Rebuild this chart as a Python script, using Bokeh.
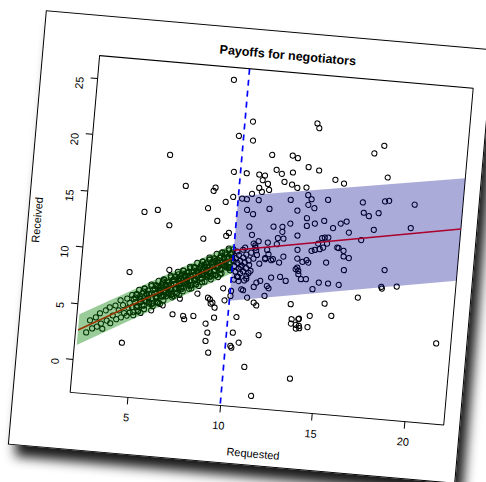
import math
from bokeh.plotting import figure
from bokeh.models import Range1d, FixedTicker, Span
from bokeh.embed import file_html
from bokeh.resources import INLINE

# ---------------- data ----------------
x_ticks = [5, 10, 15, 20]
y_ticks = [0, 5, 10, 15, 20, 25]
title_text = "Payoffs for negotiators"

# dense cloud of negotiators who requested below 10
cloud_x = [2.45, 2.6, 2.75, 2.9, 3.0, 3.1, 3.2, 3.3, 3.4, 3.5, 3.6, 3.7, 3.8, 3.9, 4.0, 4.1, 4.15, 4.25, 4.3, 4.4, 4.5, 4.55, 4.6,
           4.65, 4.70, 4.75, 4.80, 4.85, 4.90, 4.95, 5.00, 5.05, 5.10, 5.15, 5.20, 5.25, 5.30, 5.35, 5.40, 5.45, 5.50, 5.55, 5.60,
           5.65, 5.70, 5.75, 5.80, 5.85, 5.90, 5.95, 6.00, 6.05, 6.10, 6.15, 6.20, 6.25, 6.30, 6.35, 6.40, 6.45, 6.50, 6.55, 6.60,
           6.65, 6.70, 6.75, 6.80, 6.85, 6.90, 6.95, 7.00, 7.05, 7.10, 7.15, 7.20, 7.25, 7.30, 7.35, 7.40, 7.45, 7.50, 7.55, 7.60,
           7.65, 7.70, 7.75, 7.80, 7.85, 7.90, 7.95, 8.00, 8.05, 8.10, 8.15, 8.20, 8.25, 8.30, 8.35, 8.40, 8.45, 8.50, 8.55, 8.60,
           8.65, 8.70, 8.75, 8.80, 8.85, 8.90, 8.95, 9.00, 9.05, 9.10, 9.15, 9.20, 9.25, 9.30, 9.35, 9.40, 9.45, 9.50, 9.55, 9.60,
           9.65, 9.70, 9.75, 9.80, 9.85, 9.90, 9.95,
           4.88, 4.98, 5.08, 5.18, 5.28, 5.38, 5.48, 5.58, 5.68, 5.78, 5.88, 5.98, 6.08, 6.18, 6.28, 6.38, 6.48, 6.58, 6.68, 6.78,
           6.88, 6.98, 7.08, 7.18, 7.28, 7.38, 7.48, 7.58, 7.68, 7.78, 7.88, 7.98, 8.08, 8.18, 8.28, 8.38, 8.48, 8.58, 8.68, 8.78,
           8.88, 8.98, 9.08, 9.18, 9.28, 9.38, 9.48, 9.58, 9.68, 9.78, 9.88, 9.98,
           4.93, 5.03, 5.13, 5.23, 5.33, 5.43, 5.53, 5.63, 5.73, 5.83, 5.93, 6.03, 6.13, 6.23, 6.33, 6.43, 6.53, 6.63, 6.73, 6.83,
           6.93, 7.03, 7.13, 7.23, 7.33, 7.43, 7.53, 7.63, 7.73, 7.83, 7.93, 8.03, 8.13, 8.23, 8.33, 8.43, 8.53, 8.63, 8.73, 8.83,
           8.93, 9.03, 9.13, 9.23, 9.33, 9.43, 9.53, 9.63, 9.73, 9.83, 9.93,
           6.02, 6.10, 6.18, 6.26, 6.34, 6.42, 6.50, 6.58, 6.66, 6.74, 6.82, 6.90, 6.98, 7.06, 7.14, 7.22, 7.30, 7.38, 7.46, 7.54,
           7.62, 7.70, 7.78, 7.86, 7.94, 8.02, 8.10, 8.18, 8.26, 8.34, 8.42, 8.50, 8.58, 8.66, 8.74, 8.82, 8.90, 8.98, 9.06, 9.14,
           9.22, 9.30, 9.38, 9.46, 9.54, 9.62, 9.70, 9.78, 9.86, 9.94,
           5.84, 6.44, 7.33]
cloud_y = [2.5, 3.6, 2.9, 3.9, 3.1, 4.3, 3.4, 2.95, 4.6, 3.7, 4.9, 3.5, 4.2, 5.1, 3.9, 4.7, 5.6, 4.1, 5.2, 4.5, 5.8, 4.3, 5.0,
           5.45, 4.59, 6.14, 5.09, 5.83, 4.38, 5.53, 6.18, 5.12, 6.67, 4.82, 5.86, 5.61, 6.36, 5.30, 6.80, 5.00, 6.35, 5.69, 6.04,
           6.39, 5.53, 7.08, 6.03, 6.77, 5.32, 6.47, 7.12, 6.06, 7.61, 5.76, 6.80, 6.55, 7.30, 6.25, 7.74, 5.94, 7.29, 6.63, 6.98,
           7.33, 6.47, 8.02, 6.97, 7.72, 6.26, 7.41, 8.06, 7.00, 8.55, 6.70, 7.75, 7.49, 8.24, 7.19, 8.68, 6.88, 8.23, 7.57, 7.92,
           8.27, 7.42, 8.96, 7.91, 8.66, 7.20, 8.35, 9.00, 7.95, 9.49, 7.64, 8.69, 8.43, 9.18, 8.13, 9.62, 7.82, 9.17, 8.52, 8.86,
           9.21, 8.36, 9.90, 8.85, 9.60, 8.14, 9.29, 9.94, 8.89, 10.43, 8.58, 9.63, 9.37, 10.12, 9.07, 10.57, 8.76, 10.11, 9.46, 9.80,
           10.15, 9.30, 10.84, 9.79, 10.54, 9.09, 10.23,
           4.66, 6.26, 5.25, 6.09, 4.64, 6.83, 5.78, 6.67, 5.66, 6.46, 5.60, 7.20, 6.19, 7.04, 5.58, 7.77, 6.72, 7.61, 6.61, 7.40,
           6.54, 8.14, 7.13, 7.98, 6.52, 8.71, 7.66, 8.55, 7.55, 8.34, 7.49, 9.08, 8.07, 8.92, 7.46, 9.66, 8.60, 9.49, 8.49, 9.28,
           8.43, 10.02, 9.01, 9.86, 8.40, 10.60, 9.54, 10.44, 9.43, 10.22, 9.37, 10.96,
           5.96, 5.15, 4.75, 5.84, 6.54, 5.33, 6.32, 6.02, 7.21, 5.51, 6.90, 6.09, 5.69, 6.78, 7.48, 6.27, 7.26, 6.96, 8.15, 6.45,
           7.84, 7.04, 6.63, 7.72, 8.42, 7.21, 8.21, 7.90, 9.09, 7.39, 8.78, 7.98, 7.57, 8.66, 9.36, 8.15, 9.15, 8.84, 10.04, 8.33,
           9.72, 8.92, 8.51, 9.61, 10.30, 9.09, 10.09, 9.78, 10.98, 9.27, 10.66,
           6.19, 7.11, 5.64, 6.71, 7.59, 6.41, 7.19, 6.31, 7.54, 7.01, 6.94, 7.86, 6.39, 7.46, 8.34, 7.16, 7.94, 7.06, 8.29, 7.77,
           7.69, 8.62, 7.14, 8.22, 9.09, 7.92, 8.69, 7.82, 9.04, 8.52, 8.44, 9.37, 7.89, 8.97, 9.84, 8.67, 9.44, 8.57, 9.80, 9.27,
           9.20, 10.12, 8.65, 9.72, 10.60, 9.42, 10.20, 9.32, 10.55, 10.02,
           4.95, 5.48, 6.20]

# cluster just above the 10 threshold
cluster_x = [10.10, 10.15, 10.20, 10.25, 10.30, 10.35, 10.40, 10.45, 10.50, 10.55, 10.60, 10.65, 10.70, 10.75, 10.80,
             10.85, 10.90, 10.95, 10.30, 10.50, 10.15, 10.40, 10.70, 11.00, 10.20, 10.60, 11.10, 10.05, 10.90, 10.45]
cluster_y = [9.5, 10.2, 9.0, 9.8, 10.5, 9.3, 10.0, 8.9, 9.6, 10.3, 9.1, 9.9, 10.6, 9.4, 8.7,
             10.1, 9.7, 10.8, 8.6, 11.0, 8.3, 8.2, 8.3, 9.2, 10.8, 11.2, 10.3, 9.9, 9.0, 9.45]

# remaining scattered negotiators
other_x = [9.21, 10.43, 9.74, 10.52, 13.91, 14.03, 6.13, 7.12, 11.62, 12.73, 13.02, 13.64, 14.22, 15.14, 15.62, 9.64,
           10.34, 11.02, 11.33, 11.93, 12.23, 12.82, 11.23, 11.53, 12.41, 12.83, 13.13, 13.62, 11.08, 11.62, 11.24, 10.72,
           8.64, 8.73, 9.72, 9.34, 13.75, 13.95, 10.21, 11.11, 12.83, 14.84, 17.11, 17.61, 17.94, 16.72, 17.91, 18.13,
           19.52, 16.82, 17.11, 17.62, 15.63, 15.94, 15.24, 14.73, 11.73, 10.53, 13.24, 13.80, 14.14, 13.79, 13.82, 12.92,
           12.03, 12.51, 12.53, 12.62, 10.91, 10.73, 13.36, 11.30, 11.80, 11.14, 11.80, 12.32, 13.43, 13.46, 12.70, 12.15,
           12.50, 11.44, 11.72, 11.89, 13.59, 13.75, 13.50, 14.07, 14.19, 14.36, 14.51, 14.70, 14.84, 15.03, 15.03, 15.63,
           15.94, 16.23, 16.02, 14.73, 15.23, 15.81, 14.42, 16.11, 16.81, 17.44, 19.42, 18.21, 18.11, 18.15, 18.94, 16.90,
           15.14, 13.32, 15.56, 14.40, 13.83, 21.33, 14.24, 9.53, 9.66, 8.98, 11.04, 11.15, 12.29, 11.73, 12.06, 13.57,
           13.75, 13.96, 14.62, 14.80, 14.99, 15.56, 15.91, 10.36, 10.81, 10.69, 11.37, 11.57, 11.25, 11.95, 12.05, 11.87,
           10.94, 12.94, 14.02, 10.46, 13.44, 13.80, 13.69, 13.89, 9.26, 9.61, 9.74, 10.05, 10.04, 8.95, 9.10, 9.24,
           5.02, 5.73, 6.42, 8.42, 8.31, 4.50, 6.63, 7.01, 7.59, 7.66, 8.14, 8.83, 8.25, 8.84, 9.01, 4.42,
           8.91, 9.11, 10.34, 10.70, 10.27, 8.97, 10.33, 11.12, 11.62, 13.63, 13.42, 13.86, 13.71, 14.33, 11.74, 10.59,
           11.32, 11.47, 12.14, 12.62, 13.42, 11.21, 11.27, 10.87, 10.47]
other_y = [25.90, 22.37, 21.00, 20.70, 22.70, 22.30, 18.79, 16.18, 19.58, 19.68, 19.49, 18.78, 18.57, 17.87, 17.61, 17.79,
           17.77, 17.75, 17.71, 18.30, 17.99, 18.19, 17.28, 16.99, 17.30, 17.12, 16.87, 16.97, 16.57, 16.47, 16.24, 15.99,
           15.96, 16.26, 15.58, 15.08, 16.31, 15.98, 15.50, 15.49, 15.76, 16.05, 20.50, 21.25, 18.48, 16.09, 16.35, 16.44,
           16.29, 15.19, 14.93, 15.27, 14.06, 14.28, 13.60, 14.17, 14.80, 14.54, 14.87, 15.46, 15.21, 14.27, 13.59, 13.67,
           13.27, 13.32, 12.88, 12.29, 12.38, 13.08, 12.67, 11.87, 11.82, 11.49, 11.17, 12.29, 11.41, 10.64, 10.71, 10.40,
           10.15, 9.90, 10.34, 10.80, 9.27, 8.85, 9.85, 10.37, 11.43, 11.54, 12.12, 12.63, 12.70, 12.73, 10.51, 11.88,
           11.18, 11.08, 9.98, 8.69, 8.68, 8.64, 8.06, 13.33, 12.76, 13.76, 14.20, 10.30, 8.80, 8.65, 8.94, 7.67,
           6.88, 6.57, 5.85, 5.69, 5.36, 4.23, 13.86, 12.09, 12.37, 13.34, 11.62, 11.28, 11.75, 10.43, 10.29, 9.57,
           10.39, 10.57, 11.64, 11.81, 12.19, 11.92, 11.68, 8.57, 8.48, 7.43, 8.21, 8.39, 7.80, 7.99, 7.80, 7.10,
           6.81, 8.58, 8.89, 5.02, 5.25, 5.31, 4.78, 4.52, 4.79, 7.45, 6.40, 7.28, 6.83, 6.38, 6.10, 5.68,
           13.57, 13.85, 12.59, 14.39, 11.67, 8.16, 8.65, 4.77, 4.70, 4.42, 4.78, 4.20, 6.78, 6.50, 6.00, 1.87,
           2.67, 1.66, 3.61, 2.78, 2.43, 3.42, 2.28, 0.68, -1.82, 0.00, 4.86, 4.72, 4.46, 4.68, 3.59, 7.50,
           6.42, 6.19, 8.76, 8.89, 9.69, 11.06, 10.65, 14.21, 15.48]

# fitted lines and prediction bands
low_x = [2.0, 10.0]
low_fit = [2.65, 10.18]
low_lower = [1.32, 8.85]
low_upper = [4.05, 11.45]

high_x = [10.0, 22.12]
high_fit = [10.88, 14.50]
high_lower = [6.39, 9.92]
high_upper = [15.70, 19.02]

threshold = 10

# ---------------- figure ----------------
# The page rotates the figure by 5 degrees; Bokeh sizes its canvas to the
# rotated bounding box (about 485 x 473), so the right/bottom borders absorb
# the extra room and the canvas border is transparent.
FONT = "Liberation Sans"
p = figure(width=449, height=436, output_backend="svg", toolbar_location=None,
           x_range=Range1d(1.87, 22.12), y_range=Range1d(-2.9, 27.0),
           min_border_left=54, min_border_right=53, min_border_top=40, min_border_bottom=95,
           title=title_text, x_axis_label="Requested", y_axis_label="Received")

p.background_fill_color = "white"
p.border_fill_color = None
p.outline_line_color = "black"
p.outline_line_width = 1
p.outline_line_alpha = 1.0
p.xgrid.visible = False
p.ygrid.visible = False

p.title.align = "center"
p.title.vertical_align = "top"
p.title.standoff = 15
p.title.text_font = FONT
p.title.text_font_size = "12.5px"
p.title.text_font_style = "bold"
p.title.text_color = "black"

for ax in (p.xaxis[0], p.yaxis[0]):
    ax.axis_line_color = None
    ax.major_tick_out = 7
    ax.major_tick_in = 0
    ax.minor_tick_line_color = None
    ax.major_tick_line_color = "black"
    ax.major_label_text_font = FONT
    ax.major_label_text_font_size = "11px"
    ax.major_label_text_color = "black"
    ax.axis_label_text_font = FONT
    ax.axis_label_text_font_size = "11px"
    ax.axis_label_text_font_style = "normal"
    ax.axis_label_text_color = "black"

p.xaxis[0].ticker = FixedTicker(ticks=x_ticks)
p.yaxis[0].ticker = FixedTicker(ticks=y_ticks)
p.xaxis[0].major_label_standoff = 9
p.xaxis[0].axis_label_standoff = 12
p.yaxis[0].major_label_standoff = 11
p.yaxis[0].axis_label_standoff = 13
p.yaxis[0].major_label_orientation = math.pi / 2

# points
for xs, ys in ((cloud_x, cloud_y), (cluster_x, cluster_y), (other_x, other_y)):
    p.scatter(xs, ys, marker="circle", size=5.2, fill_color=None, line_color="black", line_width=1)

# fit lines
p.line(low_x, low_fit, line_color="red", line_width=1.5)
p.line(high_x, high_fit, line_color="red", line_width=1.5)

# translucent bands drawn on top
p.varea(x=low_x, y1=low_lower, y2=low_upper, fill_color="#008000", fill_alpha=0.4)
p.varea(x=high_x, y1=high_lower, y2=high_upper, fill_color="#00008B", fill_alpha=0.33)

p.add_layout(Span(location=threshold, dimension="height", line_color="blue",
                  line_width=1.7, line_dash="6 5"))

# tilted "photo" look
p.styles = {
    "transform": "translate(26px, 29px) rotate(5deg)",
    "box-shadow": "8px 11px 12px rgba(0,0,0,0.9)",
    "outline": "1px solid black",
    "outline-offset": "-1px",
    "background-color": "white",
}

open("out.html", "w").write(file_html(p, INLINE))
